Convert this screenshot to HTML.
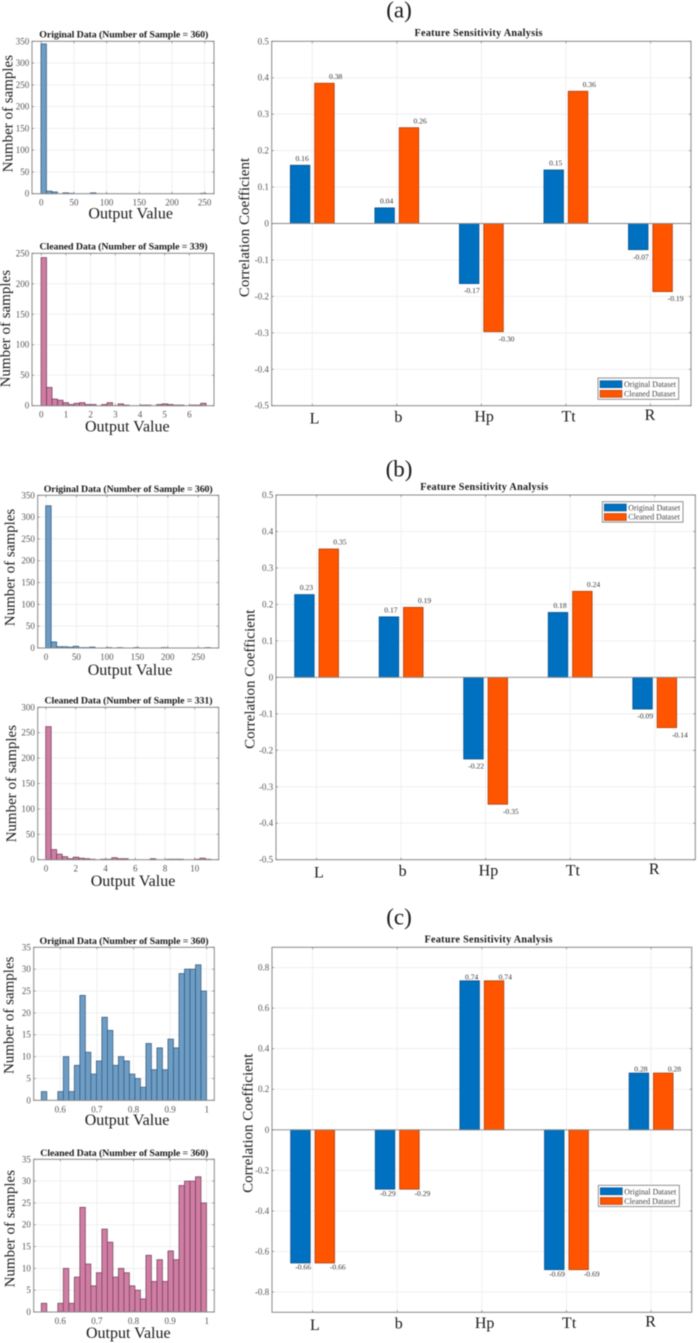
<!DOCTYPE html>
<html lang="en">
<head>
<meta charset="utf-8">
<title>Feature Sensitivity Analysis</title>
<style>
html,body{margin:0;padding:0;background:#fff;}
body{width:699px;height:1343px;overflow:hidden;}
svg{display:block;filter:blur(0.4px);}
text{font-family:"Liberation Serif",serif;}
.big{font-size:15px;fill:#1a1a1a;}
.out{font-size:16px;fill:#1a1a1a;text-anchor:middle;}
.ttl{font-size:9.9px;font-weight:bold;fill:#1a1a1a;text-anchor:middle;}
.ftl{font-size:10.2px;font-weight:bold;fill:#1a1a1a;text-anchor:middle;}
.lab{font-size:23px;fill:#1a1a1a;text-anchor:middle;}
.leg{font-size:7.9px;fill:#444;}
</style>
</head>
<body>
<svg id="figure" xmlns="http://www.w3.org/2000/svg" width="699" height="1343" viewBox="0 0 699 1343">
  <rect x="0" y="0" width="699" height="1343" fill="#fff"/>
  <g id="marks"></g>

  <text class="lab" x="399" y="17.5">(a)</text>
  <text class="lab" x="399" y="476.5">(b)</text>
  <text class="lab" x="399" y="924.5">(c)</text>

  <text class="ttl" x="123.8" y="37.7" textLength="169">Original Data (Number of Sample = 360)</text>
  <text class="ttl" x="123.5" y="249.4" textLength="168">Cleaned Data (Number of Sample = 339)</text>
  <text class="ttl" x="128.2" y="491.8" textLength="169">Original Data (Number of Sample = 360)</text>
  <text class="ttl" x="128.5" y="703.4" textLength="168">Cleaned Data (Number of Sample = 331)</text>
  <text class="ttl" x="124" y="944.1" textLength="169">Original Data (Number of Sample = 360)</text>
  <text class="ttl" x="124.3" y="1155.8" textLength="168">Cleaned Data (Number of Sample = 360)</text>

  <text class="out" x="130.7" y="218.6">Output Value</text>
  <text class="out" x="127.3" y="431.7">Output Value</text>
  <text class="out" x="130" y="675">Output Value</text>
  <text class="out" x="133" y="886">Output Value</text>
  <text class="out" x="127" y="1125">Output Value</text>
  <text class="out" x="128.3" y="1338">Output Value</text>

  <text class="big" text-anchor="middle" transform="translate(12.7 113.7) rotate(-90)">Number of samples</text>
  <text class="big" text-anchor="middle" transform="translate(10 328.7) rotate(-90)">Number of samples</text>
  <text class="big" text-anchor="middle" transform="translate(14.3 567.5) rotate(-90)">Number of samples</text>
  <text class="big" text-anchor="middle" transform="translate(16 783.7) rotate(-90)">Number of samples</text>
  <text class="big" text-anchor="middle" transform="translate(13.7 1015.3) rotate(-90)">Number of samples</text>
  <text class="big" text-anchor="middle" transform="translate(14.3 1228.7) rotate(-90)">Number of samples</text>

  <text class="ftl" x="478.5" y="35.8" textLength="128">Feature Sensitivity Analysis</text>
  <text class="ftl" x="484.2" y="490.1" textLength="128">Feature Sensitivity Analysis</text>
  <text class="ftl" x="488.5" y="942.4" textLength="128">Feature Sensitivity Analysis</text>

  <text class="big" text-anchor="middle" transform="translate(249 227.5) rotate(-90)">Correlation Coefficient</text>
  <text class="big" text-anchor="middle" transform="translate(254.3 679.2) rotate(-90)">Correlation Coefficient</text>
  <text class="big" text-anchor="middle" transform="translate(252.7 1123.2) rotate(-90)">Correlation Coefficient</text>

  <g transform="translate(598 378)">
    <rect x="0" y="0" width="80.7" height="21.3" fill="#fff" stroke="#777" stroke-width="0.8"/>
    <rect x="2" y="2.7" width="22" height="7" fill="#0070c0" stroke="#0a4f86" stroke-width="0.6"/>
    <rect x="2" y="12.3" width="22" height="7" fill="#ff5500" stroke="#a33a10" stroke-width="0.6"/>
    <text class="leg" x="26" y="9">Original Dataset</text>
    <text class="leg" x="26" y="18.7">Cleaned Dataset</text>
  </g>
  <g transform="translate(602.3 501.7)">
    <rect x="0" y="0" width="80.7" height="20.5" fill="#fff" stroke="#777" stroke-width="0.8"/>
    <rect x="2" y="2.3" width="22" height="7" fill="#0070c0" stroke="#0a4f86" stroke-width="0.6"/>
    <rect x="2" y="11.8" width="22" height="7" fill="#ff5500" stroke="#a33a10" stroke-width="0.6"/>
    <text class="leg" x="26" y="8.6">Original Dataset</text>
    <text class="leg" x="26" y="18">Cleaned Dataset</text>
  </g>
  <g transform="translate(598.3 1185.3)">
    <rect x="0" y="0" width="81" height="21.3" fill="#fff" stroke="#777" stroke-width="0.8"/>
    <rect x="2" y="2.5" width="22" height="7" fill="#0070c0" stroke="#0a4f86" stroke-width="0.6"/>
    <rect x="2" y="12.2" width="22" height="7" fill="#ff5500" stroke="#a33a10" stroke-width="0.6"/>
    <text class="leg" x="26" y="9">Original Dataset</text>
    <text class="leg" x="26" y="18.7">Cleaned Dataset</text>
  </g>
</svg>

<script>
// ---- Histogram counts (30 bins each) ----
const countsAOriginal = [344,6,4,0,2,1,0,0,0,2,0,0,0,0,0,0,0,0,0,0,0,0,0,0,0,0,0,0,0,1];
const countsACleaned  = [243,30,11,9,5,2,4,5,2,2,0,2,5,0,3,1,0,0,1,1,0,2,3,2,1,1,0,1,1,4];
const countsBOriginal = [326,14,3,3,2,4,1,1,2,0,0,1,0,1,0,0,1,0,0,0,0,1,0,0,0,0,0,0,0,1];
const countsBCleaned  = [262,20,11,6,2,5,3,2,1,0,1,1,4,2,2,0,0,0,0,2,0,0,1,1,1,0,0,1,3,1];
const countsCOriginal = [2,0,0,2,10,2,8,24,11,6,9,19,16,8,10,9,6,5,3,13,7,12,7,14,12,29,30,30,31,25];
const countsCCleaned  = [2,0,0,2,10,2,8,24,11,6,9,19,16,8,10,9,6,5,3,13,7,12,7,14,12,29,30,30,31,25];

// ---- Histogram tick labels ----
const xTicksAOriginal = [0,50,100,150,200,250];
const yTicksAOriginal = [0,50,100,150,200,250,300,350];
const xTicksACleaned  = [0,1,2,3,4,5,6];
const yTicksACleaned  = [0,50,100,150,200,250];
const xTicksBOriginal = [0,50,100,150,200,250];
const yTicksBOriginal = [0,50,100,150,200,250,300,350];
const xTicksBCleaned  = [0,2,4,6,8,10];
const yTicksBCleaned  = [0,50,100,150,200,250,300];
const xTicksC = [0.6,0.7,0.8,0.9,1];
const yTicksC = [0,5,10,15,20,25,30,35];

// ---- Bar chart data ----
const categories = ['L','b','Hp','Tt','R'];
const originalA = [0.16,0.043,-0.165,0.147,-0.072];
const cleanedA  = [0.385,0.263,-0.297,0.363,-0.187];
const printedOriginalA = ['0.16','0.04','-0.17','0.15','-0.07'];
const printedCleanedA  = ['0.38','0.26','-0.30','0.36','-0.19'];
const originalB = [0.227,0.166,-0.224,0.178,-0.087];
const cleanedB  = [0.352,0.192,-0.348,0.236,-0.138];
const printedOriginalB = ['0.23','0.17','-0.22','0.18','-0.09'];
const printedCleanedB  = ['0.35','0.19','-0.35','0.24','-0.14'];
const originalC = [-0.657,-0.293,0.735,-0.69,0.28];
const cleanedC  = [-0.657,-0.293,0.735,-0.69,0.28];
const printedOriginalC = ['-0.66','-0.29','0.74','-0.69','0.28'];
const printedCleanedC  = ['-0.66','-0.29','0.74','-0.69','0.28'];
const yTicksBarAB = [-0.5,-0.4,-0.3,-0.2,-0.1,0,0.1,0.2,0.3,0.4,0.5];
const yTicksBarC  = [-0.8,-0.6,-0.4,-0.2,0,0.2,0.4,0.6,0.8];

const NS = 'http://www.w3.org/2000/svg';
const root = document.getElementById('marks');

function make(tag, parent, attrs) {
  const node = document.createElementNS(NS, tag);
  for (const k in attrs) node.setAttribute(k, attrs[k]);
  parent.appendChild(node);
  return node;
}

function linear(d0, d1, r0, r1) {
  return function (v) { return r0 + (v - d0) * (r1 - r0) / (d1 - d0); };
}

function drawFrameAndGrid(g, box, xs, ys, xVals, yVals) {
  const bg = make('rect', g, {x: box.l, y: box.t, width: box.r - box.l, height: box.b - box.t, fill: '#fff'});
  
  
  xVals.forEach(function (v) {
    const line = make('line', g, {x1: xs(v), x2: xs(v), y1: box.t, y2: box.b, stroke: '#ececec', 'stroke-width': 0.8});
    
    
  });
  yVals.forEach(function (v) {
    const line = make('line', g, {x1: box.l, x2: box.r, y1: ys(v), y2: ys(v), stroke: '#ececec', 'stroke-width': 0.8});
    
    
  });
}

function drawAxes(g, box, xs, ys, xVals, yVals, showXLabels) {
  const frame = make('rect', g, {x: box.l, y: box.t, width: box.r - box.l, height: box.b - box.t, fill: 'none', stroke: '#8a8a8a', 'stroke-width': 1});
  
  
  xVals.forEach(function (v) {
    [[box.b, box.b - 2], [box.t, box.t + 2]].forEach(function (p) {
      const tick = make('line', g, {x1: xs(v), x2: xs(v), y1: p[0], y2: p[1], stroke: '#777', 'stroke-width': 0.7});
      
      
    });
    if (showXLabels) {
      const lbl = make('text', g, {x: xs(v), y: box.b + 12, 'text-anchor': 'middle', 'font-size': 9, fill: '#555'});
      lbl.textContent = String(v);
      
      
    }
  });
  yVals.forEach(function (v) {
    [[box.l, box.l + 2], [box.r, box.r - 2]].forEach(function (p) {
      const tick = make('line', g, {x1: p[0], x2: p[1], y1: ys(v), y2: ys(v), stroke: '#777', 'stroke-width': 0.7});
      
      
    });
    const lbl = make('text', g, {x: box.l - 2.8, y: ys(v) + 3, 'text-anchor': 'end', 'font-size': 9, fill: '#555'});
    lbl.textContent = String(v);
    
    
  });
}

function drawHistogram(key, box, xLim, yMax, binStart, binWidth, counts, xVals, yVals, fill, edge) {
  const g = make('g', root, {});
  
  
  const xs = linear(xLim[0], xLim[1], box.l, box.r);
  const ys = linear(0, yMax, box.b, box.t);
  drawFrameAndGrid(g, box, xs, ys, xVals, yVals);
  counts.forEach(function (c, i) {
    if (!c) return;
    const x0 = xs(binStart + i * binWidth);
    const x1 = xs(binStart + (i + 1) * binWidth);
    const bar = make('rect', g, {x: x0, y: ys(c), width: x1 - x0, height: ys(0) - ys(c), fill: fill, stroke: edge, 'stroke-width': 0.7});
    
    
  });
  drawAxes(g, box, xs, ys, xVals, yVals, true);
}

function drawBarChart(key, box, yLim, yVals, original, cleaned, printedO, printedC, gap) {
  const g = make('g', root, {});
  
  
  const xs = linear(0.52, 5.48, box.l, box.r);
  const ys = linear(yLim[0], yLim[1], box.b, box.t);
  const catVals = categories.map(function (c, i) { return i + 1; });
  drawFrameAndGrid(g, box, xs, ys, catVals, yVals);
  const nudgeX = function (i) { return [2.3, 1.5, 2.8, 2.7, -0.5][i]; };
  const nudgeY = function (i) { return [17.6, 16.4, 15.9, 15.9, 14.2][i]; };
  const half = 0.116, off = 0.144;
  categories.forEach(function (name, i) {
    [[original, printedO, -off, '#0070c0', '#0a4f86', 'original'],
     [cleaned, printedC, off, '#ff5500', '#a33a10', 'cleaned']].forEach(function (s) {
      const v = s[0][i];
      const xc = xs(i + 1 + s[2]);
      const x0 = xs(i + 1 + s[2] - half);
      const x1 = xs(i + 1 + s[2] + half);
      const top = ys(Math.max(v, 0));
      const bot = ys(Math.min(v, 0));
      const bar = make('rect', g, {x: x0, y: top, width: x1 - x0, height: bot - top, fill: s[3], stroke: s[4], 'stroke-width': 0.7});
      
      
      const isOrig = s[5] === 'original';
      const dx = v >= 0 ? (isOrig ? 2 : 11.2) : (isOrig ? 2.7 : 13);
      const ly = v >= 0 ? top - gap + 2.6 : bot + gap + 2.6;
      const lbl = make('text', g, {x: xc + dx, y: ly, 'text-anchor': 'middle', 'font-size': 7.6, fill: '#333'});
      lbl.textContent = s[1][i];
      
      
    });
  });
  const zero = make('line', g, {x1: box.l, x2: box.r, y1: ys(0), y2: ys(0), stroke: '#8a8a8a', 'stroke-width': 0.9});
  
  
  drawAxes(g, box, xs, ys, catVals, yVals, false);
  categories.forEach(function (name, i) {
    const lbl = make('text', g, {x: xs(i + 1) + nudgeX(i), y: box.b + nudgeY(i), 'text-anchor': 'middle', 'font-size': 16, fill: '#1a1a1a'});
    lbl.textContent = name;
    
    
  });
}

const BLUE = '#6d9dc5', BLUE_EDGE = '#2f5577';
const PINK = '#cf7da3', PINK_EDGE = '#6f3a57';

drawHistogram('a-original', {l: 32, r: 214, t: 41.3, b: 193.7}, [-14.2, 264.3], 350, -0.5, 8.42, countsAOriginal, xTicksAOriginal, yTicksAOriginal, BLUE, BLUE_EDGE);
drawHistogram('a-cleaned', {l: 32, r: 214, t: 253.3, b: 405.7}, [-0.377, 7.0], 250, -0.01, 0.223, countsACleaned, xTicksACleaned, yTicksACleaned, PINK, PINK_EDGE);
drawHistogram('b-original', {l: 37.7, r: 218.7, t: 495.3, b: 648}, [-13.6, 283.6], 350, -0.5, 9.03, countsBOriginal, xTicksBOriginal, yTicksBOriginal, BLUE, BLUE_EDGE);
drawHistogram('b-cleaned', {l: 37.7, r: 218.7, t: 707.3, b: 859.7}, [-0.558, 11.61], 300, -0.02, 0.37, countsBCleaned, xTicksBCleaned, yTicksBCleaned, PINK, PINK_EDGE);
drawHistogram('c-original', {l: 33.7, r: 214.3, t: 947.3, b: 1100.3}, [0.5273, 1.0208], 35, 0.548, 0.01505, countsCOriginal, xTicksC, yTicksC, BLUE, BLUE_EDGE);
drawHistogram('c-cleaned', {l: 33.7, r: 214.3, t: 1159.3, b: 1312}, [0.5273, 1.0208], 35, 0.548, 0.01505, countsCCleaned, xTicksC, yTicksC, PINK, PINK_EDGE);

drawBarChart('a', {l: 271.7, r: 691, t: 41.3, b: 405.7}, [-0.5, 0.5], yTicksBarAB, originalA, cleanedA, printedOriginalA, printedCleanedA, 7);
drawBarChart('b', {l: 276, r: 695.3, t: 495, b: 859.7}, [-0.5, 0.5], yTicksBarAB, originalB, cleanedB, printedOriginalB, printedCleanedB, 7);
drawBarChart('c', {l: 272, r: 691.7, t: 947.3, b: 1312.3}, [-0.9, 0.9], yTicksBarC, originalC, cleanedC, printedOriginalC, printedCleanedC, 4);
</script>
</body>
</html>
